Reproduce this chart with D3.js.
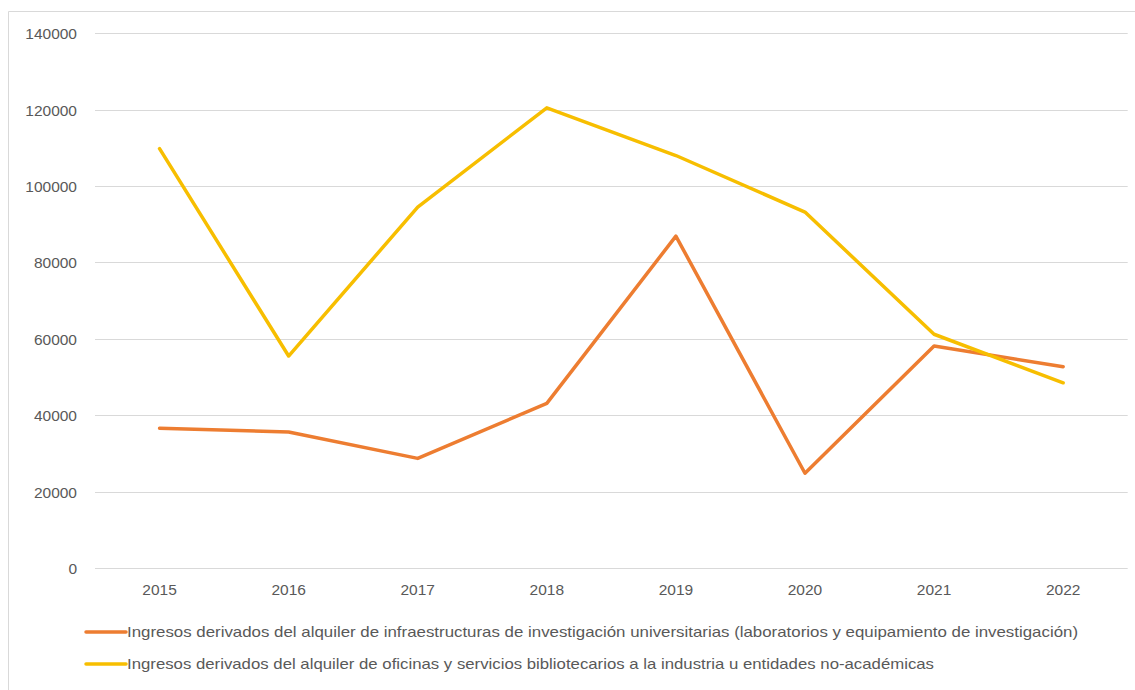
<!DOCTYPE html>
<html>
<head>
<meta charset="utf-8">
<script src="https://cdn.jsdelivr.net/npm/d3@7"></script>
<style>
  html, body { margin: 0; padding: 0; background: #fff; }
  svg { display: block; }
</style>
</head>
<body>
<svg id="chart" width="1135" height="690"></svg>
<script>
const years = ["2015", "2016", "2017", "2018", "2019", "2020", "2021", "2022"];
const infraestructuras = [36600, 35600, 28700, 43100, 86900, 24800, 58100, 52700];
const oficinas = [109800, 55500, 94500, 120500, 108000, 93200, 61200, 48500];
const yTicks = [0, 20000, 40000, 60000, 80000, 100000, 120000, 140000];
const seriesNames = [
  "Ingresos derivados del alquiler de infraestructuras de investigación universitarias (laboratorios y equipamiento de investigación)",
  "Ingresos derivados del alquiler de oficinas y servicios bibliotecarios a la industria u entidades no-académicas"
];
const seriesColors = ["#ED7D31", "#F7BE00"];

const svg = d3.select("#chart");
const font = "'Liberation Sans', Arial, sans-serif";

// outer frame
svg.append("path")
  .attr("d", "M8.5,690 L8.5,11.5 L1135,11.5")
  .attr("fill", "none").attr("stroke", "#d9d9d9").attr("stroke-width", 1);

const x = d3.scaleBand().domain(years).range([95, 1127.7]);
const y = d3.scaleLinear().domain([0, 140000]).range([568, 33.3]);

// gridlines
svg.append("g").selectAll("line").data(yTicks).join("line")
  .attr("x1", 95).attr("x2", 1127.7)
  .attr("y1", d => Math.round(y(d)) + 0.5).attr("y2", d => Math.round(y(d)) + 0.5)
  .attr("stroke", "#d9d9d9").attr("stroke-width", 1);

// y axis labels
const yAxis = d3.axisLeft(y).tickValues(yTicks).tickSize(0).tickPadding(0).tickFormat(d3.format("d"));
const gy = svg.append("g").attr("transform", "translate(77,0)").call(yAxis);
gy.select(".domain").remove();
gy.selectAll("text").attr("font-family", font).attr("font-size", 15.5).attr("fill", "#595959").attr("dy", "0.35em");

// x axis labels
const xAxis = d3.axisBottom(x).tickSize(0).tickPadding(0);
const gx = svg.append("g").attr("transform", "translate(0,584)").call(xAxis);
gx.select(".domain").remove();
gx.selectAll("text").attr("font-family", font).attr("font-size", 15.5).attr("fill", "#595959").attr("dy", "0.71em");

// lines
const line = d3.line().x((d, i) => x(years[i]) + x.bandwidth() / 2).y(d => y(d));
[infraestructuras, oficinas].forEach((s, i) => {
  svg.append("path").datum(s)
    .attr("d", line)
    .attr("fill", "none")
    .attr("stroke", seriesColors[i])
    .attr("stroke-width", 3.5)
    .attr("stroke-linejoin", "round")
    .attr("stroke-linecap", "round");
});

// legend
const legendY = [632, 664];
const legendWidths = [951, 807];
seriesNames.forEach((name, i) => {
  const g = svg.append("g");
  g.append("line").attr("x1", 86).attr("x2", 126).attr("y1", legendY[i]).attr("y2", legendY[i])
    .attr("stroke", seriesColors[i]).attr("stroke-width", 3.5).attr("stroke-linecap", "round");
  g.append("text").attr("x", 127).attr("y", legendY[i]).attr("dy", "0.35em")
    .attr("font-family", font).attr("font-size", 15).attr("fill", "#595959")
    .attr("textLength", legendWidths[i]).attr("lengthAdjust", "spacingAndGlyphs")
    .text(name);
});
</script>
</body>
</html>
